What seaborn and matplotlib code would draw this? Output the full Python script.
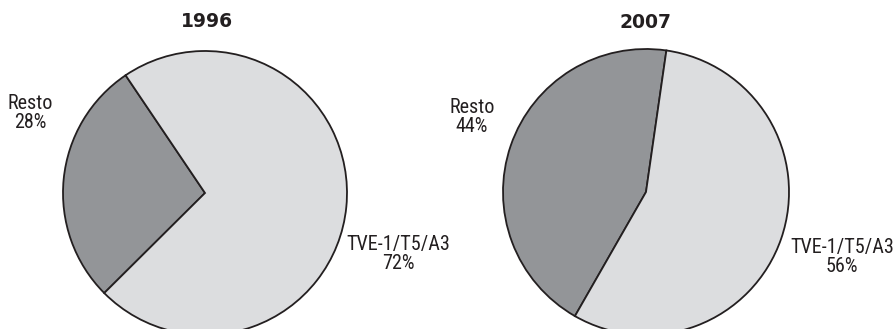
import matplotlib
matplotlib.use("Agg")
import matplotlib.pyplot as plt
from matplotlib import font_manager
import seaborn as sns

# ---- data ----
years = ["1996", "2007"]
categories = ["Resto", "TVE-1/T5/A3"]
share_1996 = [28, 72]
share_2007 = [44, 56]

sns.set_theme(style="white")

# pick a condensed face if one is installed
cands = ["Roboto Condensed", "Open Sans Condensed", "Liberation Sans Narrow",
         "Noto Sans Condensed", "DejaVu Sans"]
label_font, label_stretch, label_size = "DejaVu Sans", "normal", 12
fl = font_manager.fontManager.ttflist
for c in cands:
    hits = [f for f in fl if f.name == c]
    if not hits:
        continue
    cond = [f for f in hits if str(f.stretch) in ("condensed", "semi-condensed", "extra-condensed")
            or "Condensed" in f.fname or "Narrow" in f.fname]
    if cond:
        label_font, label_stretch, label_size = c, "condensed", 14.5
        break
plt.rcParams["font.family"] = [label_font, "DejaVu Sans"]

W, H = 895, 329
fig = plt.figure(figsize=(W / 100, H / 100), dpi=100)
fig.patch.set_facecolor("white")

colors = ["#939598", "#dcdddf"]
edge = "#231f20"
text_c = "#231f20"

layouts = [
    dict(x0=0, x1=447.5, cx=205, cy=193, r=142, start=124,
         lab=[(30, 113), (398, 254)], title_x=207),
    dict(x0=447.5, x1=895, cx=646, cy=192, r=143, start=81.8,
         lab=[(472, 117), (842, 257)], title_x=646),
]
shares = [share_1996, share_2007]

for year, vals, L in zip(years, shares, layouts):
    ax = fig.add_axes([L["x0"] / W, 0, (L["x1"] - L["x0"]) / W, 1])
    r = L["r"]
    ax.pie(vals, colors=colors, startangle=L["start"], counterclock=True,
           radius=1, center=(0, 0),
           wedgeprops=dict(edgecolor=edge, linewidth=1.3))
    ax.set_xlim((L["x0"] - L["cx"]) / r, (L["x1"] - L["cx"]) / r)
    ax.set_ylim((L["cy"] - H) / r, L["cy"] / r)
    ax.set_aspect("auto")
    ax.axis("off")
    for cat, v, (px, py) in zip(categories, vals, L["lab"]):
        ax.text((px - L["cx"]) / r, (L["cy"] - py) / r, f"{cat}\n{v}%",
                ha="center", va="center", fontsize=label_size, color=text_c,
                linespacing=0.95, family=[label_font, "DejaVu Sans"],
                fontstretch=label_stretch)
    ax.text((L["title_x"] - L["cx"]) / r, (L["cy"] - 22) / r, year,
            ha="center", va="center", fontsize=13.5, fontweight="heavy",
            color=text_c, family=["DejaVu Sans"])

fig.savefig("out.png", dpi=100)
